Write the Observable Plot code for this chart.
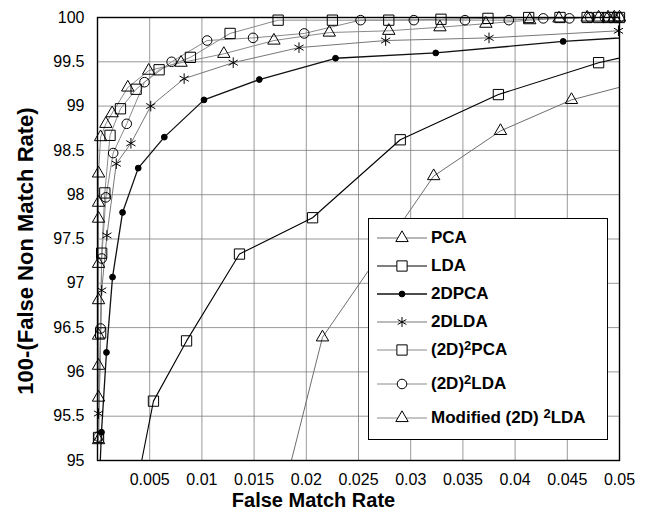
<!DOCTYPE html>
<html><head><meta charset="utf-8">
<script src="https://cdn.jsdelivr.net/npm/d3@7"></script>
<script src="https://cdn.jsdelivr.net/npm/@observablehq/plot@0.6"></script>
<style>
body{margin:0;background:#fff;font-family:"Liberation Sans",Arial,sans-serif;}
#wrap{position:relative;width:646px;height:520px;}
#legend{position:absolute;left:368px;top:218px;width:240px;height:222px;border:1.3px solid #000;background:#fff;box-sizing:border-box;}
.row{position:absolute;left:0;height:26px;}
.row svg{position:absolute;left:8px;top:0;}
.row span{position:absolute;left:62px;top:3px;font-weight:bold;font-size:17px;white-space:nowrap;color:#000;line-height:20px;}
.row sup{font-size:13px;position:relative;top:-4px;vertical-align:top;}
</style></head><body><div id="wrap"></div>
<script>
const xTicks = [0.005,0.01,0.015,0.02,0.025,0.03,0.035,0.04,0.045,0.05];
const xTickLabels = ["0.005","0.01","0.015","0.02","0.025","0.03","0.035","0.04","0.045","0.05"];
const yTicks = [95,95.5,96,96.5,97,97.5,98,98.5,99,99.5,100];
const yTickLabels = ["95","95.5","96","96.5","97","97.5","98","98.5","99","99.5","100"];

// PCA
const pcaX = [0.0175,0.02155,0.0322,0.0386,0.0454,0.0522];
const pcaY = [94.5,96.39,98.21,98.72,99.07,99.28];
// LDA
const ldaX = [0.0034,0.00536,0.00853,0.0136,0.0206,0.0290,0.0384,0.0480,0.0575];
const ldaY = [94.5,95.67,96.35,97.33,97.74,98.62,99.13,99.49,99.74];
// 2DPCA
const p2dX = [0.0002,0.00038,0.00086,0.00144,0.0024,0.0039,0.0064,0.0102,0.0155,0.0228,0.0324,0.0446,0.057];
const p2dY = [94.8,95.32,96.22,97.07,97.80,98.30,98.65,99.07,99.30,99.54,99.60,99.73,99.82];
// 2DLDA
const l2dX = [0.0001,0.0004,0.0009,0.0018,0.0032,0.0051,0.0083,0.0130,0.0193,0.0276,0.0375,0.0499];
const l2dY = [95.53,96.92,97.54,98.35,98.58,99.00,99.31,99.49,99.66,99.74,99.77,99.85];
// (2D)2PCA
const p22X = [0.0001,0.0003,0.0004,0.0007,0.0012,0.0022,0.0037,0.0059,0.0089,0.0127,0.0173,0.0225,0.0279,0.0329,0.0374,0.0413,0.0443,0.0469,0.0480,0.0489,0.0495,0.0500];
const p22Y = [95.26,96.44,97.34,98.02,98.67,98.97,99.19,99.41,99.55,99.82,99.97,99.97,99.97,99.98,99.99,100,100,100,100,100,100,100];
// (2D)2LDA
const l22X = [0.0001,0.0003,0.0004,0.0008,0.0015,0.0028,0.0045,0.0071,0.0105,0.0149,0.0198,0.0252,0.0303,0.0352,0.0394,0.0427,0.0452,0.0472,0.0486,0.0500];
const l22Y = [95.27,96.49,97.28,97.97,98.47,98.80,99.27,99.50,99.74,99.77,99.82,99.97,99.97,99.97,99.97,99.99,99.99,100,100,100];
// Modified (2D)2LDA
const modX = [0.0001,0.0001,0.0001,0.0001,0.0001,0.0001,0.0001,0.0001,0.0001,0.0003,0.0008,0.0014,0.0029,0.0049,0.0080,0.0121,0.0169,0.0222,0.0279,0.0328,0.0372,0.0414,0.0442,0.0469,0.0480,0.0489,0.0495,0.0500];
const modY = [95.23,95.71,96.07,96.41,96.81,97.22,97.73,97.91,98.24,98.65,98.80,98.92,99.21,99.40,99.49,99.59,99.74,99.83,99.85,99.89,99.93,99.97,99.99,100,100,100,100,100];

const series = [
  {name:"PCA", xs:pcaX, ys:pcaY, stroke:"#6e6e6e", sw:1, symbol:"triangle", r:4.6, fill:"none"},
  {name:"LDA", xs:ldaX, ys:ldaY, stroke:"#000", sw:1.1, symbol:"square", r:5.8, fill:"none"},
  {name:"2DPCA", xs:p2dX, ys:p2dY, stroke:"#111", sw:1.3, symbol:"circle", r:2.9, fill:"#000"},
  {name:"2DLDA", xs:l2dX, ys:l2dY, stroke:"#777", sw:1, symbol:"asterisk", r:5, fill:"none"},
  {name:"(2D)2PCA", xs:p22X, ys:p22Y, stroke:"#8a8a8a", sw:1, symbol:"square", r:5.8, fill:"none"},
  {name:"(2D)2LDA", xs:l22X, ys:l22Y, stroke:"#8a8a8a", sw:1, symbol:"circle", r:4.8, fill:"none"},
  {name:"Modified (2D)2LDA", xs:modX, ys:modY, stroke:"#8a8a8a", sw:1, symbol:"triangle", r:4.6, fill:"none"}
];

const marks = [
  Plot.gridX(xTicks, {stroke:"#777", strokeOpacity:0.75, strokeWidth:1}),
  Plot.gridY(yTicks, {stroke:"#777", strokeOpacity:0.75, strokeWidth:1}),
  Plot.axisX(xTicks, {tickSize:0, tickPadding:13, fontSize:16, tickFormat:(d,i)=>xTickLabels[i], label:null}),
  Plot.axisY(yTicks, {tickSize:0, tickPadding:13, fontSize:16, tickFormat:(d,i)=>yTickLabels[i], label:null})
];
for (const s of series) {
  const data = s.xs.map((x,i)=>({x, y:s.ys[i]}));
  marks.push(Plot.line(data, {x:"x", y:"y", stroke:s.stroke, strokeWidth:s.sw, clip:true}));
}
for (const s of series) {
  const data = s.xs.map((x,i)=>({x, y:s.ys[i]})).filter(d=>d.x<=0.05 && d.y>=95);
  marks.push(Plot.dot(data, {x:"x", y:"y", symbol:()=>s.symbol, r:s.r, stroke:"#000", strokeWidth:1, fill:s.fill}));
}
marks.push(Plot.frame({stroke:"#000", strokeWidth:1.4}));
marks.push(Plot.text(["False Match Rate"], {frameAnchor:"bottom", dy:40, dx:-45, lineAnchor:"middle", textAnchor:"middle", fontSize:20, fontWeight:"bold", fill:"#000"}));
marks.push(Plot.text(["100-(False Non Match Rate)"], {frameAnchor:"left", dx:-72, dy:12, rotate:-90, lineAnchor:"middle", textAnchor:"middle", fontSize:22, fontWeight:"bold", fill:"#000"}));

const plot = Plot.plot({
  width:646, height:520,
  marginLeft:97, marginRight:27, marginTop:17, marginBottom:60,
  style:{fontFamily:"'Liberation Sans', Arial, sans-serif", fontSize:"16px", background:"#fff", color:"#000"},
  x:{domain:[0,0.05]},
  y:{domain:[95,100]},
  marks
});
const wrap = document.getElementById("wrap");
wrap.appendChild(plot);

// legend
const leg = document.createElement("div");
leg.id = "legend";
wrap.appendChild(leg);
const labels = ["PCA","LDA","2DPCA","2DLDA","(2D)<sup>2</sup>PCA","(2D)<sup>2</sup>LDA","Modified (2D) <sup>2</sup>LDA"];
const rowTops = [6, 34, 62, 90, 118, 152, 186];
series.forEach((s,i)=>{
  const row = document.createElement("div");
  row.className = "row";
  row.style.top = rowTops[i] + "px";
  row.style.width = "235px";
  const svg = d3.create("svg").attr("width",50).attr("height",26);
  svg.append("line").attr("x1",0).attr("x2",50).attr("y1",13).attr("y2",13).attr("stroke",s.stroke).attr("stroke-width",s.sw);
  const g = svg.append("g").attr("transform","translate(25,13)");
  if (s.symbol === "asterisk") {
    const rx = s.r, ry = rx*Math.sqrt(3)/2;
    g.append("path").attr("d",`M0,${rx}L0,${-rx}M${-ry},${-rx/2}L${ry},${rx/2}M${-ry},${rx/2}L${ry},${-rx/2}`).attr("stroke","#000").attr("fill","none");
  } else {
    const sym = s.symbol==="triangle"?d3.symbolTriangle:s.symbol==="square"?d3.symbolSquare:d3.symbolCircle;
    g.append("path").attr("d", d3.symbol(sym, Math.PI*s.r*s.r)()).attr("stroke","#000").attr("fill", s.fill==="none"?"#fff":s.fill);
  }
  row.appendChild(svg.node());
  const sp = document.createElement("span");
  sp.innerHTML = labels[i];
  row.appendChild(sp);
  leg.appendChild(row);
});
</script></body></html>
